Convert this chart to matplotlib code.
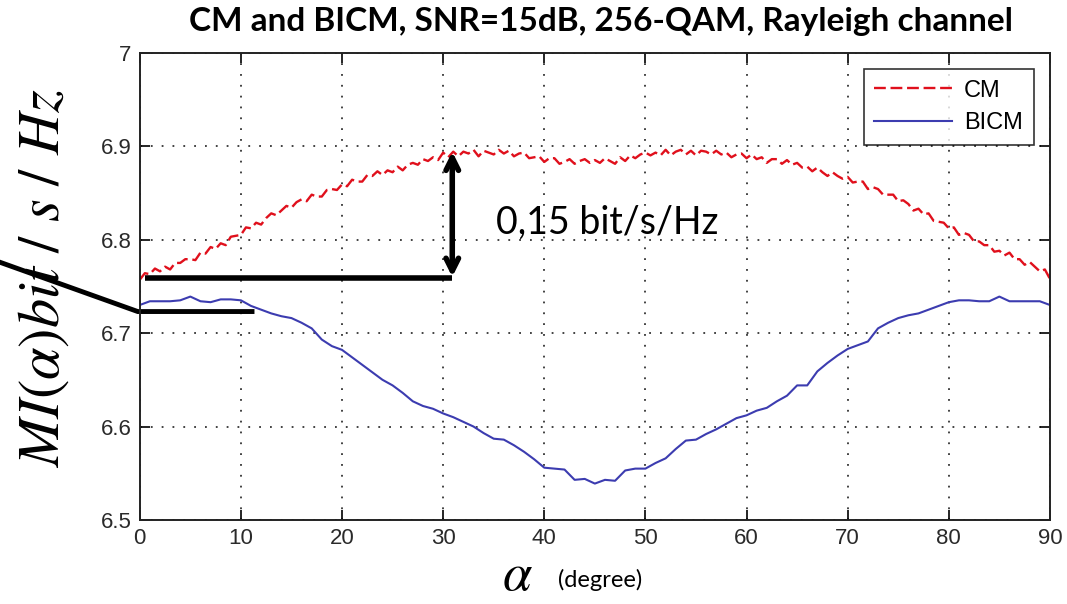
import matplotlib.pyplot as plt
import numpy as np

# angle grids (degrees)
alpha_cm = np.arange(0, 90.5, 0.5)
alpha_bicm = np.arange(0, 91, 1)

# CM: mutual information (0.5 degree steps)
mi_cm = [
    6.757, 6.764, 6.763, 6.769, 6.766, 6.771, 6.768, 6.775, 6.775, 6.779,
    6.779, 6.778, 6.786, 6.785, 6.792, 6.790, 6.796, 6.794, 6.803, 6.804,
    6.805, 6.813, 6.812, 6.818, 6.816, 6.823, 6.828, 6.826, 6.831, 6.836,
    6.834, 6.840, 6.843, 6.841, 6.848, 6.846, 6.846, 6.853, 6.854, 6.853,
    6.859, 6.857, 6.864, 6.862, 6.862, 6.869, 6.868, 6.873, 6.869, 6.874,
    6.872, 6.878, 6.874, 6.880, 6.882, 6.880, 6.886, 6.884, 6.888, 6.885,
    6.893, 6.888, 6.894, 6.889, 6.894, 6.892, 6.896, 6.889, 6.895, 6.893,
    6.891, 6.896, 6.892, 6.895, 6.889, 6.892, 6.893, 6.887, 6.888, 6.889,
    6.883, 6.887, 6.887, 6.881, 6.883, 6.886, 6.881, 6.884, 6.886, 6.882,
    6.885, 6.882, 6.887, 6.884, 6.881, 6.888, 6.884, 6.890, 6.887, 6.891,
    6.893, 6.890, 6.893, 6.890, 6.896, 6.890, 6.894, 6.896, 6.891, 6.895,
    6.890, 6.895, 6.894, 6.891, 6.895, 6.891, 6.893, 6.888, 6.891, 6.892,
    6.887, 6.891, 6.886, 6.888, 6.882, 6.886, 6.886, 6.881, 6.885, 6.880,
    6.882, 6.877, 6.878, 6.873, 6.877, 6.872, 6.868, 6.872, 6.868, 6.865,
    6.867, 6.861, 6.862, 6.862, 6.854, 6.856, 6.854, 6.848, 6.848, 6.848,
    6.841, 6.842, 6.838, 6.831, 6.833, 6.827, 6.828, 6.820, 6.819, 6.818,
    6.812, 6.813, 6.805, 6.807, 6.805, 6.798, 6.798, 6.794, 6.794, 6.787,
    6.788, 6.783, 6.786, 6.779, 6.779, 6.773, 6.776, 6.771, 6.766, 6.768,
    6.758,
]

# BICM: smoother blue curve (1 degree steps)
mi_bicm = [
    6.730, 6.734, 6.734, 6.734, 6.735, 6.739, 6.734, 6.733, 6.736, 6.736,
    6.735, 6.729, 6.725, 6.721, 6.718, 6.716, 6.711, 6.705, 6.693, 6.686,
    6.682, 6.674, 6.666, 6.658, 6.650, 6.644, 6.636, 6.627, 6.622, 6.619,
    6.614, 6.610, 6.605, 6.600, 6.593, 6.587, 6.586, 6.580, 6.573, 6.565,
    6.556, 6.555, 6.554, 6.543, 6.544, 6.539, 6.543, 6.542, 6.553, 6.555,
    6.555, 6.561, 6.566, 6.576, 6.585, 6.586, 6.592, 6.597, 6.603, 6.609,
    6.612, 6.617, 6.620, 6.627, 6.633, 6.644, 6.644, 6.659, 6.668, 6.676,
    6.683, 6.687, 6.691, 6.705, 6.711, 6.716, 6.719, 6.721, 6.725, 6.729,
    6.733, 6.735, 6.735, 6.734, 6.734, 6.739, 6.734, 6.734, 6.734, 6.734,
    6.730,
]

x_ticks = list(range(0, 91, 10))
y_ticks = [6.5, 6.6, 6.7, 6.8, 6.9, 7.0]
y_tick_labels = ["6.5", "6.6", "6.7", "6.8", "6.9", "7"]

plt.rcParams["mathtext.fontset"] = "stix"

fig = plt.figure(figsize=(10.67, 6.04), dpi=100)
ax = fig.add_axes([0.131, 0.139, 0.853, 0.774])

ax.plot(alpha_cm, mi_cm, color="#e0101c", lw=1.7, ls=(0, (5, 2)), label="CM")
ax.plot(alpha_bicm, mi_bicm, color="#3c3cb0", lw=1.5, label="BICM")

ax.set_xlim(0, 90)
ax.set_ylim(6.5, 7.0)
ax.set_xticks(x_ticks)
ax.set_yticks(y_ticks)
ax.set_yticklabels(y_tick_labels)
ax.tick_params(direction="in", top=True, right=True, length=7, width=1.2,
               labelsize=16, labelcolor="#2a2a2a", pad=6)
for lbl in ax.get_xticklabels() + ax.get_yticklabels():
    lbl.set_family("Liberation Sans")
ax.grid(True, ls=(0, (1, 5)), color="#333333", lw=1.3)
for sp in ax.spines.values():
    sp.set_linewidth(1.4)
    sp.set_color("#222222")

leg = ax.legend(loc="upper right", fancybox=False, edgecolor="black",
                prop={"family": "Liberation Sans", "size": 17},
                handlelength=3.3, handletextpad=0.5, borderpad=0.45,
                labelspacing=0.45, bbox_to_anchor=(0.995, 0.99))
leg.get_frame().set_linewidth(1.2)

# annotation: 0.15 bit/s/Hz gap
ax.plot([0.5, 30.9], [6.759, 6.759], color="black", lw=4, solid_capstyle="butt")
ax.annotate("", xy=(30.9, 6.897), xytext=(30.9, 6.757),
            arrowprops=dict(arrowstyle="<->,head_length=0.9,head_width=0.45",
                            color="black", lw=4))
ax.text(35.2, 6.818, "0,15 bit/s/Hz", fontsize=27, family="Lato",
        va="center", ha="left")

# pointer line from the y label to the BICM level
ax.plot([-13.9, -0.2, 11.1], [6.776, 6.723, 6.723], color="black", lw=3.5,
        clip_on=False, solid_joinstyle="miter")

fig.text(0.563, 0.965, "CM and BICM, SNR=15dB, 256-QAM, Rayleigh channel",
         ha="center", va="center", fontsize=24, fontweight="bold", family="Lato")
fig.text(0.040, 0.54, r"$MI(\alpha)bit\ /\ s\ /\ Hz$", rotation=90,
         ha="center", va="center", fontsize=42)
fig.text(0.485, 0.048, r"$\alpha$", ha="center", va="center", fontsize=38)
fig.text(0.523, 0.04, "(degree)", ha="left", va="center", fontsize=17, family="Lato")

fig.savefig("out.png", dpi=100)
